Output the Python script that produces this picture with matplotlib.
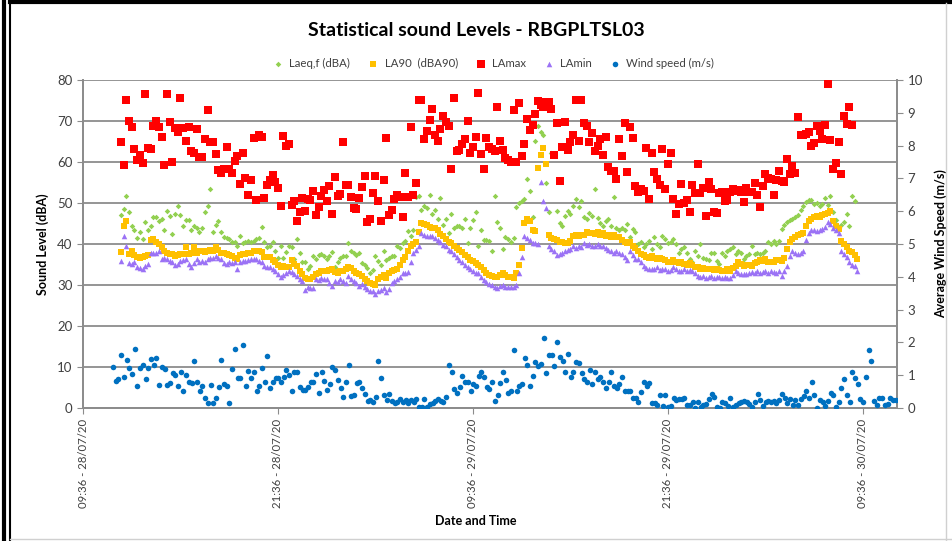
import numpy as np
import matplotlib
matplotlib.use("Agg")
import matplotlib.pyplot as plt
import matplotlib.dates as mdates
from matplotlib.lines import Line2D
from datetime import datetime, timedelta

plt.rcParams['font.family'] = ['Lato', 'DejaVu Sans']

# --- data (10 minute samples) ---
axis_start = datetime(2020, 7, 28, 9, 36)
axis_end = axis_start + timedelta(hours=50.1)
sound_start = datetime(2020, 7, 28, 11, 56)
wind_start = datetime(2020, 7, 28, 11, 27)
step = timedelta(minutes=10)

laeq = [47.1, 48.6, 51.7, 47.9, 44.5, 43.5, 41.4, 43, 41.1, 45.3,
        43.5, 44.3, 46.6, 46.7, 45.7, 46.1, 43.5, 48, 46.9, 42.5,
        47.3, 49.3, 47.1, 44.3, 45.9, 45.9, 43.3, 44.3, 44, 42.9,
        43.9, 47.9, 49.3, 53.5, 43, 44.7, 45.5, 43, 41.6, 41.4,
        41.1, 40.6, 40.4, 39.6, 41.9, 40.2, 40.6, 40.8, 40.6, 40.8,
        41.1, 41.4, 44.1, 40.6, 39.2, 39.6, 40.6, 38.4, 36.7, 39.6,
        36.7, 38.1, 39.6, 39.2, 36.3, 41.2, 37.9, 35.6, 35.6, 34,
        34.7, 37.1, 36.3, 37.3, 37.5, 37.1, 36.3, 37.1, 38.1, 34.3,
        35.5, 36.7, 37, 37.1, 40.2,
        38.2, 37.8, 37.4, 37.8, 35.3, 34.9, 34.1, 32.9, 33.7, 37,
        35.8, 34.9, 38.2, 36.2, 36.6, 37, 37, 39.4, 39, 40.2,
        40.7, 43.1, 41.9, 43.5, 51.5, 51.8, 48.4, 49.2, 48.8, 52,
        47.2, 48.4, 46, 51.2, 44.7, 46.1, 42.7, 47.2, 43.9, 44.3,
        44.3, 43.9, 46, 40.2, 43.9, 45.9, 47.8, 39.4, 43.5, 40.9,
        40.9, 40.7, 38.4, 51.8, 45.3, 43.9, 38.9, 41.7, 41.1, 40.4,
        41.5, 49, 50, 50.4, 50.9, 55.9, 53, 46.5, 65, 68.8,
        67.2, 66.7, 54.8, 47.8, 62.3, 61.9, 48, 45, 44.3, 46.8,
        48, 47.3, 49.3, 50.9, 49.1, 50.6, 46.6, 46.2, 47.6, 46.9,
        53.5, 46.4, 45.1, 44.3, 45.5, 46, 44.3, 51.4, 43.9, 43.5,
        43.9,
        43.3, 44.9, 41.6, 43.7, 42.9, 40, 40.4, 39.2, 40, 40.8,
        38.8, 41.6, 40, 39.2, 41.9, 41.2, 40.2, 40.4, 41.2, 40,
        37.9, 38.8, 39.2, 37.9, 36.3, 35.5, 38.4, 37.1, 40, 36.7,
        36.3, 36.1, 37.9, 37.9, 35.9, 35.1, 37.9, 37.1, 38.4, 38.8,
        39.2, 37.5, 38.4, 37.9, 36.3, 37, 37.5, 39.6, 37.5, 37.7,
        37.5, 37.7, 38.4, 40.4, 40, 40.8, 40, 40.8, 43.7, 44.7,
        45.4, 45.8, 46.1, 46.6, 47, 48.2, 49.2, 50.2, 50.7, 50.7,
        49.8, 50, 49.2, 49.8, 51.2, 49.6, 51.6, 47.7, 45.9, 43.9,
        44.7, 45.3, 47.4, 44.5, 51.8, 50.4]

la90 = [38.1, 44.5, 45.7, 37.6, 38.4, 37.2, 36.8, 36.5, 36.8, 37.0, 37.2, 40.9,
        41.3, 40.5, 40, 39.2, 38.2, 37.9, 37.5, 37.6, 37.1, 37.3, 37.5, 37.5,
        39.2, 37.5, 37.9, 39.2, 37.9, 38.2, 38.4, 38, 38.4, 38.6, 38.4, 39.2,
        38.5, 37.9, 37.8, 37.5, 37.3, 37.1, 36.5, 36.3, 37.3, 37.5, 37.5, 37.7,
        37.9, 38.2, 38.4, 38.4, 38, 36.8, 36.9, 36.8, 36, 35.5, 35, 34.3,
        34.7, 34.5, 34.3, 36, 35.2, 34.7, 33.5, 32.6, 31.8, 31.4, 31.4, 32,
        32.6, 33, 33.4, 33.4, 33.4, 33.6, 33.8, 33.2, 33, 33.3, 33.4, 33.8,
        34.5, 34.2, 33.5, 33, 32.6, 32.2, 31.5, 31, 30.5, 30.2, 30, 31.5,
        32, 32.5, 31.8, 33, 33.3, 33.7, 34, 35, 36, 36.8, 38.2, 39.5,
        40, 40.6, 43, 45, 44.8, 44.6, 44.2, 44, 43.8, 43.3, 42.5, 41.9,
        41.3, 40.6, 40.2, 39.6, 39, 38.6, 38, 37.4, 36.8, 36.2, 35.8, 35.4,
        35, 34.3, 33.7, 33, 32.5, 32.3, 32, 32, 32.5, 32.9, 32.4, 32,
        32, 31.7, 32.9, 35, 39, 45.2, 46, 45.5, 43.5, 43.1, 58.6, 61.6,
        63.3, 59.6, 42.3, 41.5, 41.2, 41, 40.6, 40.4, 40.2, 40.3, 40.8, 42,
        42.2, 42, 42.3, 42.3, 43, 42.6, 42.8, 42.5, 43, 42.3, 42.6, 42,
        42.1, 41.8, 42.2, 41.8, 41.8, 41, 40.5, 40.3, 40.4, 39.6, 39, 38.3,
        37.5, 37.2, 36.9, 36.7, 37, 36.7, 36.4, 36.7, 36.3, 36, 35.5, 35.7,
        36, 35.6, 35.3, 35.5, 35.2, 35, 35.4, 35, 34.5, 34.3, 34, 34.2,
        33.8, 34, 33.8, 33.6, 34, 33.7, 33.5, 33.4, 33.8, 33.4, 34.2, 34.7,
        35.5, 35.2, 34.7, 35, 34.8, 34.7, 35.3, 35.5, 36, 35.8, 36.3, 35.5,
        35.7, 35.5, 36, 36.2, 35.8, 36.5, 38.8, 40.5, 41.3, 41.8, 42.3, 42.5,
        42.8, 44.5, 45.7, 46, 46.5, 46.9, 46.7, 47, 47.2, 47.5, 48, 45.7,
        44.5, 43.6, 40.8, 40, 39.2, 38.4, 38, 37.3, 36.3]

lamax = [64.8, 59.2, 75, 69.9, 68.6, 63.1, 60.6, 61.8, 59.7, 76.5,
         63.4, 63.2, 68.9, 70, 68.6, 66, 59.2, 76.5, 69.7, 60,
         68.3, 67.2, 75.7, 68.3, 65, 68.5, 62.6, 62.3, 68.1, 61.1,
         61.1, 65.7, 72.8, 64.9, 64.9, 62, 58.1, 57.2, 58.4, 63.7,
         58.4, 57.3, 60.2, 61.4, 54.6, 62.3, 56.2, 52, 55.5, 65.8,
         50.8, 66.6, 66, 51.2, 54.5, 55.7, 56.9, 55.2, 53.6, 49.3,
         66.3, 64, 64.5, 49.6, 50.4, 45.5, 47.7, 51.2, 48.1, 51,
         50.8, 53, 47, 49, 51.8, 53.1, 50.6, 54.1, 47.2, 56.3,
         51.6, 52.2, 64.8, 54.3, 54.3, 51.4, 48.8, 48.6, 51.2,
         54, 56.6, 45.3, 46.2, 52.4, 56.6, 50.5, 45.5, 55.6, 65.9,
         47.1, 48.4, 51, 52, 51.5, 46.6, 57.4, 51.4, 68.6, 52,
         54.8, 75, 75, 65.7, 67.5, 70.2, 73, 66.5, 65.2, 68,
         71.3, 69.8, 68.9, 58.4, 75.5, 62.8, 63, 64.5, 65.7, 69.9,
         62.3, 63.7, 66.2, 76.8, 62, 58.2, 65.8, 63.6, 63.2, 62.7,
         73.4, 65, 63, 61, 60.5, 59.9, 72.6, 60, 74.3, 61.4,
         64.3, 70.6, 67.8, 69, 71.8, 74.8, 74, 73.5, 74.6, 74.6,
         73, 61.7, 69.4, 55.3, 63.6, 69.8, 62.9, 64.8, 66.7, 75,
         65, 75, 69.6, 68.8, 64.8, 67, 62.7, 64, 65.5, 61.8,
         66.2, 58.9, 57.9, 57.9,
         55.9, 65.7, 61.4, 69.5, 57.5, 68.5, 65.9, 54.2, 52.6, 53.5,
         53, 63.5, 51, 62.3, 57.6, 55.9, 54.4, 63.1, 53.5, 59.5,
         62.3, 50.9, 47.4, 49.7, 54.6, 50, 50.7, 47.7, 54.3, 52.4,
         59.5, 52.4, 53.6, 46.9, 55.2, 53.3, 47.8, 47.6, 52.4, 52.8,
         50.5, 50.7, 52.6, 53.5, 53, 53.1, 52.7, 50.2, 53.6, 52.8,
         52.6, 54.8, 51.9, 49, 54.1, 57.1, 56.1, 55.8, 51.9, 55.6,
         57.7, 55.3, 55.2, 60.8, 57.1, 59, 57.4, 70.9, 66.5, 66.7,
         66.9, 67.2, 64, 64.6, 68.7, 67.6, 65.6, 69, 79.1, 65.4,
         58.4, 59.8, 64.9, 57, 71.3, 69.3, 73.5, 69]

lamin = [35.9, 42, 39.6, 35.3, 35.1, 35.5, 34.3, 34.1, 34, 34.6, 35.1, 37.8,
         37.8, 37.9, 38.4, 36.3, 36.5, 36.3, 35.9, 35.5, 34.8, 35.2, 35.9, 36,
         36.3, 35.2, 34.5, 35.4, 36.3, 35.5, 35.8, 35.5, 36.3, 36.5, 36.7, 37,
         36.6, 36.3, 35.3, 35.1, 35.5, 35.3, 35.5, 34, 35.5, 35.9, 35.9, 36,
         36.3, 36.3, 36.3, 35.9, 35.5, 34.7, 34.3, 34.3, 33.8, 33.4, 32.6, 32,
         32.5, 33, 33.4, 33.2, 32.6, 32.2, 31.5, 31, 28.9, 29.6, 29.3, 29.3,
         31.4, 31.2, 31.8, 31.4, 31.4, 30.6, 29.8, 31, 30.8, 31.4, 31, 30.6,
         32.2, 31.5, 31, 30.5, 29.8, 30.2, 29.5, 29, 28.5, 28.6, 27.8, 28.5,
         28.8, 29.2, 28.3, 29, 30.4, 31, 31.5, 32, 33, 33, 33.2, 35.5,
         37.8, 38.5, 39.4, 42.7, 42.3, 42, 41.9, 41.9, 41.5, 41, 40.4, 39.8,
         39.4, 38.6, 38.2, 37.5, 36.8, 36.2, 35.5, 34.8, 34.5, 33.8, 33.5, 32.9,
         32.9, 32, 31.3, 30.8, 30.3, 30, 29.6, 29.3, 29.8, 30.1, 29.4, 29.6,
         29.5, 29.6, 30, 32.9, 36.8, 41.9, 41.5, 41, 40.2, 40.2, 40, 55,
         50.4, 48.8, 39.4, 38.8, 38.3, 37.4, 37.6, 37.9, 38.2, 38.6, 38.8, 39.4,
         39, 39.4, 39.2, 40.2, 39.8, 40, 39.5, 39.4, 40, 39.6, 39.4, 39,
         38.6, 38.4, 37.8, 38.2, 37.9, 37.5, 36.8, 36.2, 38.2, 37.2, 36.3, 36.3,
         35.5, 34.6, 34.2, 34, 33.8, 34, 34.3, 33.6, 33.8, 34, 33.4, 33.6,
         34.3, 33.8, 33.5, 33.4, 33.8, 33.4, 33.6, 33.4, 32.9, 32.2, 32, 32.2,
         31.8, 32, 32.2, 31.8, 32, 31.9, 31.8, 32, 31.6, 31.8, 32.5, 33.4,
         33, 32.6, 32.8, 32.6, 33, 33.2, 33, 33.4, 33, 33.2, 33.4, 33,
         33.4, 33.2, 33, 33.4, 32.2, 33.4, 34.7, 37, 38.4, 37.8, 37.5, 37.9,
         38.4, 41, 42.8, 43.3, 43.3, 43.1, 43.5, 43.7, 44.2, 45.3, 44.8, 44,
         43.4, 42.8, 38.4, 37.5, 36.9, 35.5, 35, 34.6, 33.4]

wind = [1.25, 0.81, 0.88, 1.63, 0.95, 1.46, 1.22, 1.04, 1.79, 0.68,
        1.21, 1.3, 0.87, 1.21, 1.5, 1.31, 1.52, 0.71, 1.24, 1.2,
        0.71, 0.76, 1.07, 1.02, 0.68, 1.11, 0.51, 1.02, 0.8, 0.77,
        1.44, 0.79, 0.53, 0.68, 0.32, 0.16, 0.7, 0.16, 0.31, 0.64,
        1.47, 0.73, 0.66, 0.15, 1.2, 1.79, 0.9, 0.9, 1.92, 0.66,
        1.14, 0.9, 1.09, 0.53, 0.67, 1.22, 0.8, 1.58, 0.6, 0.78,
        0.9, 0.9, 0.8, 0.93, 1.15, 1.01, 0.51, 1.11, 1.11, 0.64,
        0.56, 0.56, 0.63, 0.78, 0.78, 1.04, 0.45, 1.1, 0.81, 0.55,
        0.73, 1.26, 1.15, 0.86, 0.62, 0.35, 0.8, 1.31, 0.37, 0.4,
        0.77, 0.79, 0.61, 0.44, 0.2, 0.23, 0.19, 0.35, 1.44, 0.9,
        0.39, 0.25, 0.42, 0.22, 0.15, 0.17, 0.27, 0.17, 0.25, 0.15,
        0.25, 0.17, 0.27, 0.04, 0.04, 0.27, 0.04, 0.12, 0.15, 0.22,
        0.27, 0.22, 0.19, 0.34, 1.31, 1.1, 0.58, 0.47, 0.63,
        0.98, 0.78, 0.78, 0.51, 0.73, 0.68, 0.98, 1.09, 0.93, 0.63,
        0.58, 0.78, 0.22, 0.4, 0.76, 1.09, 0.86, 0.45, 0.52, 1.76,
        0.53, 0.66, 0.73, 1.53, 1.31, 0.68, 0.98, 1.39, 1.29, 1.34,
        2.13, 1.07, 1.62, 1.63, 1.29, 2.02, 1.54, 1.44, 1.09, 1.66,
        0.93, 1.09, 1.39, 1.37, 1.07, 0.88, 0.8, 1.16, 0.73, 1.09,
        0.88, 0.93, 0.78, 0.6, 0.78, 1.09, 0.68, 0.6, 0.73, 0.93,
        0.51, 0.53, 0.51, 0.29, 0.32, 0.17, 0.5, 0.78, 0.68, 0.76,
        0.15, 0.15, 0.09, 0.4, 0.07, 0.4, 0.04, 0.05, 0.29, 0.25,
        0.27, 0.27, 0.29, 0.09, 0.09, 0.17, 0.0, 0.19, 0.04, 0.09,
        0.12, 0.27, 0.43, 0.35, 0.04, 0.0, 0.19, 0.15, 0.05, 0.29,
        0.04, 0.09, 0.15, 0.17, 0.22, 0.19, 0.12, 0.02, 0.19, 0.43,
        0.25, 0.07, 0.19, 0.22, 0.19, 0.22, 0.15, 0.25, 0.43, 0.29,
        0.15, 0.27, 0.09, 0.25, 0.09, 0.27, 0.38, 0.53, 0.32, 0.78,
        0.4, 0.0, 0.25, 0.17, 0.07, 0.22, 0.46, 0.4, 0.02, 0.17,
        0.6, 0.88, 0.4, 0.19, 1.09, 0.9, 0.73, 0.27, 0.19, 0.93,
        1.77, 1.43, 0.22, 0.09, 0.29, 0.29, 0.09, 0.12, 0.29, 0.25,
        0.25]


def times_for(start, values):
    return [start + step * i for i in range(len(values))]


fig = plt.figure(figsize=(9.52, 5.41), dpi=100)
ax = fig.add_axes([83 / 952, 1 - 408 / 541, (897 - 83) / 952, (408 - 80) / 541])
ax2 = ax.twinx()

grid_col = '#8c8c8c'
text_col = '#404040'

h1 = ax.scatter(times_for(sound_start, laeq), laeq, marker='D', s=8, color='#92D050',
                linewidths=0, label='Laeq,f (dBA)', zorder=3)
h2 = ax.scatter(times_for(sound_start, la90), la90, marker='s', s=24, color='#FFC000',
                linewidths=0, label='LA90  (dBA90)', zorder=4)
h3 = ax.scatter(times_for(sound_start, lamax), lamax, marker='s', s=28, color='#FF0000',
                linewidths=0, label='LAmax', zorder=5)
h4 = ax.scatter(times_for(sound_start, lamin), lamin, marker='^', s=16, color='#9B72F5',
                linewidths=0, label='LAmin', zorder=6)
h5 = ax2.scatter(times_for(wind_start, wind), wind, marker='o', s=16, color='#0070C0',
                 linewidths=0, label='Wind speed (m/s)', zorder=3)

ax.set_ylim(0, 80)
ax.set_yticks(np.arange(0, 81, 10))
ax2.set_ylim(0, 10)
ax2.set_yticks(np.arange(0, 11, 1))
ax.set_xlim(axis_start, axis_end)
ax.set_xticks([axis_start + timedelta(hours=12 * k) for k in range(5)])
ax.xaxis.set_major_formatter(mdates.DateFormatter('%H:%M - %d/%m/%y'))
for lab in ax.get_xticklabels():
    lab.set_rotation(90)

ax.yaxis.grid(True, color=grid_col, linewidth=1.3)
ax.set_axisbelow(True)
ax.tick_params(axis='y', colors=text_col, labelsize=9.5, length=4, color=grid_col)
ax.tick_params(axis='x', colors=text_col, labelsize=8.2, length=4, color=grid_col)
ax2.tick_params(axis='y', colors=text_col, labelsize=9.5, length=4, color=grid_col)
for a in (ax, ax2):
    a.spines['top'].set_visible(False)
    for side in ('left', 'right', 'bottom'):
        a.spines[side].set_color(grid_col)
        a.spines[side].set_linewidth(1.3)

ax.set_ylabel('Sound Level (dBA)', fontsize=9, fontweight='bold', color='black', labelpad=6)
ax2.set_ylabel('Average Wind Speed (m/s)', fontsize=9, fontweight='bold', color='black', labelpad=8)
fig.text(0.5, 1 - 521 / 541, 'Date and Time', ha='center', va='center',
         fontsize=9, fontweight='bold', color='black')

fig.text(0.5, 1 - 30 / 541, 'Statistical sound Levels - RBGPLTSL03', ha='center', va='center',
         fontsize=14, fontweight='bold', color='black')

fig.legend(handles=[h1, h2, h3, h4, h5], loc='center', bbox_to_anchor=(0.515, 1 - 63 / 541),
           ncol=5, frameon=False, fontsize=8.2, handletextpad=0.0, columnspacing=1.0,
           markerscale=1.0, labelcolor=text_col)

# screenshot frame
fig.add_artist(Line2D([0.004, 0.004], [0, 1], color='black', linewidth=3))
fig.add_artist(Line2D([0.011, 0.011], [0, 0.995], color='black', linewidth=1.5))
fig.add_artist(Line2D([0.011, 1], [0.996, 0.996], color='black', linewidth=3))
fig.add_artist(Line2D([0.994, 0.994], [0, 0.995], color='#d0d0d0', linewidth=1))
fig.add_artist(Line2D([0.011, 1], [0.004, 0.004], color='#d0d0d0', linewidth=1))

fig.savefig('out.png', dpi=100)
